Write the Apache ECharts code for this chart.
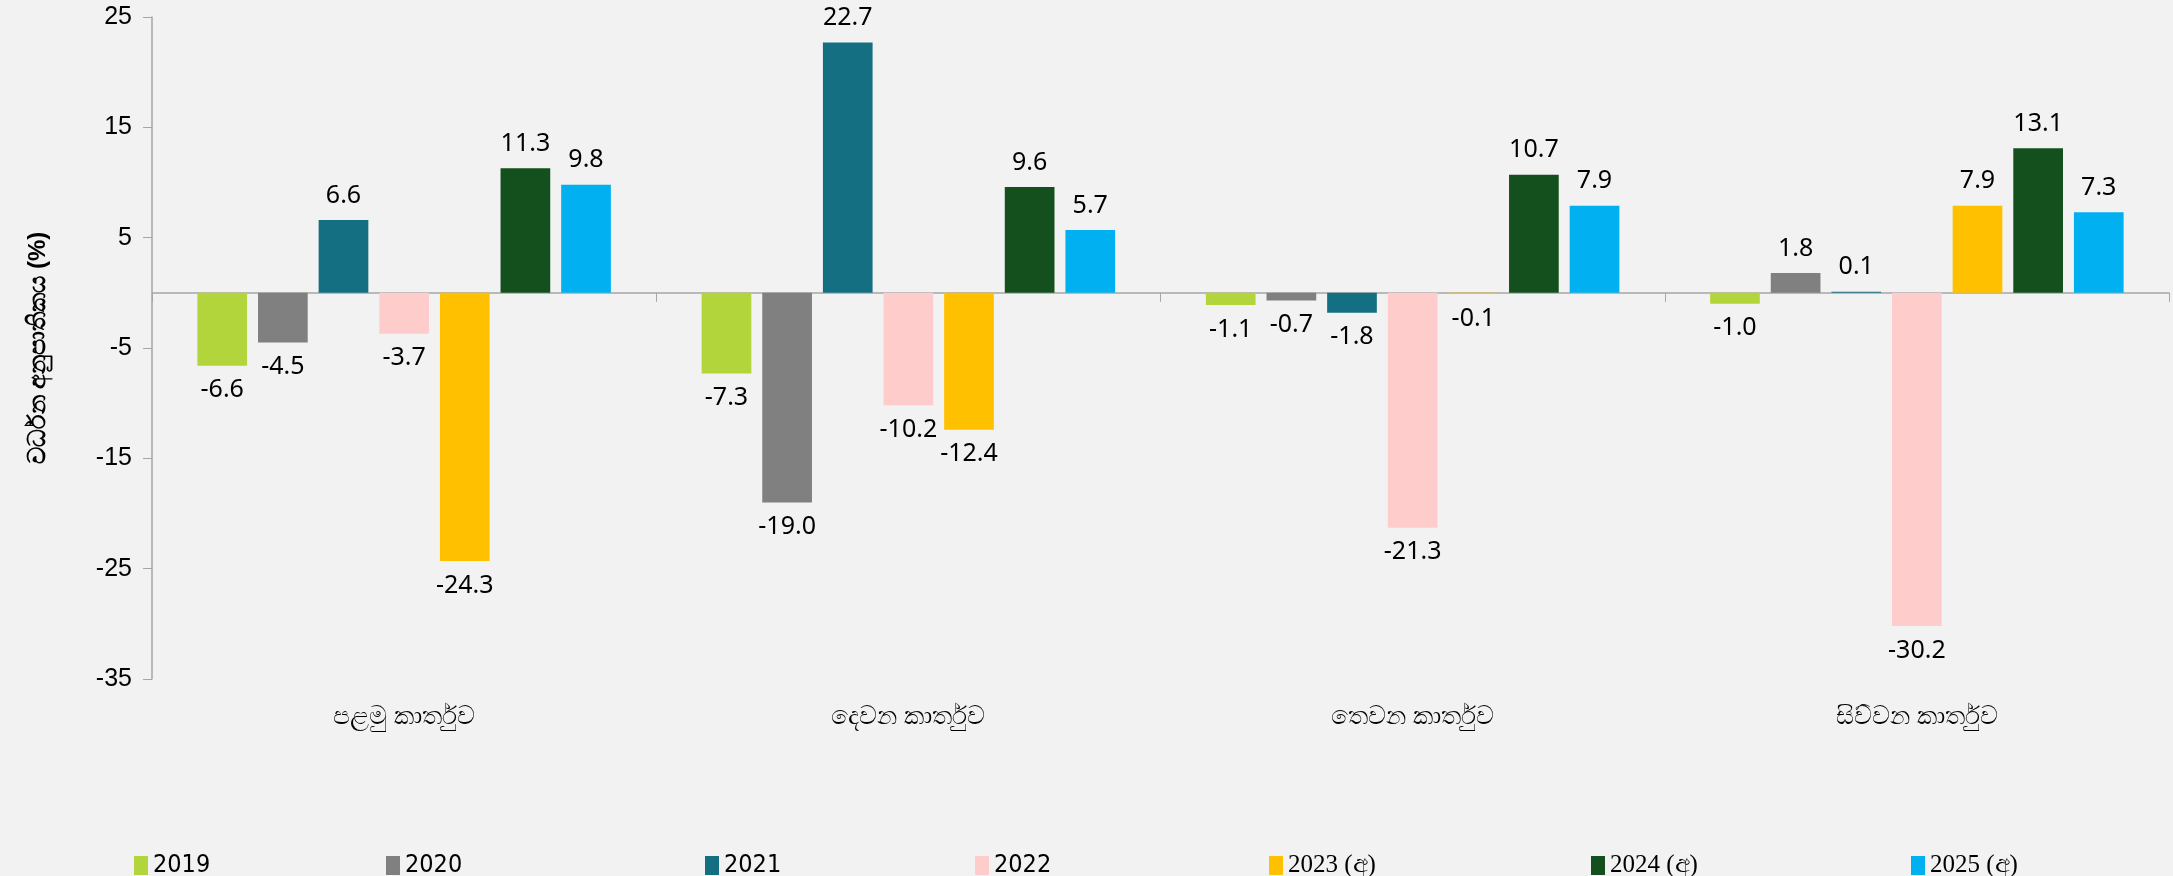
<!DOCTYPE html>
<html>
<head>
<meta charset="utf-8">
<script src="https://cdn.jsdelivr.net/npm/echarts@6/dist/echarts.min.js"></script>
<style>
  html, body { margin: 0; padding: 0; background: #F2F2F2; }
  #chart { width: 2173px; height: 876px; }
</style>
</head>
<body>
<div id="chart"></div>
<script>
// quarters (x axis)
const quarters = ['පළමු කාර්තුව', 'දෙවන කාර්තුව', 'තෙවන කාර්තුව', 'සිව්වන කාර්තුව'];
// series names
const years = ['2019', '2020', '2021', '2022', '2023 (අ)', '2024 (අ)', '2025 (අ)'];
// growth rates per year, one value per quarter
const v2019 = [-6.6, -7.3, -1.1, -1.0];
const v2020 = [-4.5, -19.0, -0.7, 1.8];
const v2021 = [6.6, 22.7, -1.8, 0.1];
const v2022 = [-3.7, -10.2, -21.3, -30.2];
const v2023 = [-24.3, -12.4, -0.1, 7.9];
const v2024 = [11.3, 9.6, 10.7, 13.1];
const v2025 = [9.8, 5.7, 7.9, 7.3];
const yTicks = [-35, -25, -15, -5, 5, 15, 25];

const colors = ['#B2D53B', '#808080', '#156F82', '#FFCCCC', '#FFC000', '#14501E', '#00B0F0'];
const legendLeft = [129, 381, 700, 970, 1264, 1586, 1906];
const allValues = [v2019, v2020, v2021, v2022, v2023, v2024, v2025];

const chart = echarts.init(document.getElementById('chart'));

const series = years.map((name, i) => ({
  name: name,
  type: 'bar',
  barGap: '22%',
  barCategoryGap: '18%',
  itemStyle: { color: colors[i] },
  data: allValues[i].map(v => ({
    value: v,
    label: { position: v >= 0 ? 'top' : 'bottom' }
  })),
  label: {
    show: true,
    distance: 12,
    color: '#000',
    fontFamily: 'Noto Sans',
    fontSize: 25,
    formatter: p => p.value.toFixed(1)
  }
}));

const legends = years.map((name, i) => ({
  data: [name],
  left: legendLeft[i],
  top: 848,
  itemWidth: 14,
  itemHeight: 19,
  itemGap: 6,
  icon: 'rect',
  textStyle: {
    color: '#000',
    fontSize: 25,
    fontFamily: i < 4 ? 'DejaVu Sans Condensed' : 'Liberation Serif'
  }
}));

chart.setOption({
  backgroundColor: '#F2F2F2',
  animation: false,
  legend: legends,
  grid: { left: 152, right: 4, top: 17, bottom: 197 },
  xAxis: [
    {
      type: 'category',
      data: quarters,
      axisLine: { onZero: true, lineStyle: { color: '#A6A6A6', width: 1.5 } },
      axisTick: { show: true, length: 9, lineStyle: { color: '#A6A6A6' } },
      axisLabel: { show: false }
    },
    {
      type: 'category',
      data: quarters,
      position: 'bottom',
      axisLine: { show: false, onZero: false },
      axisTick: { show: false },
      axisLabel: { margin: 26, color: '#000', fontSize: 25 }
    }
  ],
  yAxis: {
    type: 'value',
    min: yTicks[0],
    max: yTicks[yTicks.length - 1],
    interval: 10,
    name: 'වර්ධන අනුපාතිකය (%)',
    nameLocation: 'middle',
    nameRotate: 90,
    nameGap: 102,
    nameTextStyle: { color: '#000', fontSize: 24, fontWeight: 'bold' },
    splitLine: { show: false },
    axisLine: { show: true, lineStyle: { color: '#A6A6A6', width: 1.5 } },
    axisTick: { show: true, length: 9, lineStyle: { color: '#A6A6A6' } },
    axisLabel: { color: '#000', fontSize: 25, fontFamily: 'Liberation Sans', margin: 20 }
  },
  series: series
});
</script>
</body>
</html>
